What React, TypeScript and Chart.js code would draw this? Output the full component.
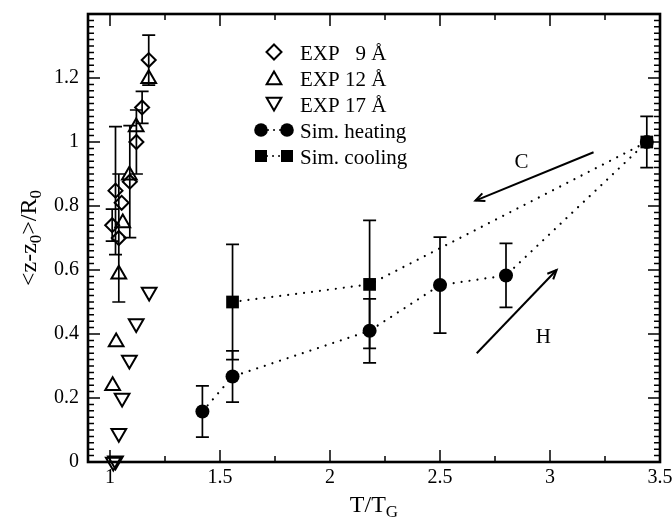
import React, { useEffect, useRef } from 'react';
import { Chart, registerables } from 'chart.js';

Chart.register(...registerables);

// ---------- data ----------
const exp9X = [1.176, 1.146, 1.12, 1.09, 1.025, 1.053, 1.01, 1.04];
const exp9Y = [1.256, 1.108, 1.0, 0.876, 0.848, 0.81, 0.74, 0.70];
const exp9Err = [0.078, 0.05, 0.1, 0.175, 0.2, 0, 0.05, 0.2];

const exp12X = [1.176, 1.119, 1.088, 1.058, 1.04, 1.028, 1.012];
const exp12Y = [1.198, 1.047, 0.896, 0.747, 0.587, 0.375, 0.238];

const exp17X = [1.178, 1.119, 1.088, 1.055, 1.04, 1.015, 1.025];
const exp17Y = [0.531, 0.433, 0.319, 0.2, 0.09, 0.0, 0.004];

const heatX = [1.42, 1.557, 2.18, 2.5, 2.8, 3.44];
const heatY = [0.158, 0.267, 0.41, 0.553, 0.583, 1.0];
const heatErr = [0.08, 0.08, 0.1, 0.15, 0.1, 0.08];

const coolX = [1.557, 2.18, 3.44];
const coolY = [0.5, 0.555, 1.0];
const coolErr = [0.18, 0.2, 0];

const xTicks = [1, 1.5, 2, 2.5, 3, 3.5];
const yTicks = [0, 0.2, 0.4, 0.6, 0.8, 1, 1.2];

// annotation arrows (data coordinates)
const arrowCFrom = [3.198, 0.968];
const arrowCTo = [2.661, 0.817];
const arrowHFrom = [2.667, 0.34];
const arrowHTo = [3.03, 0.6];
const labelC = [2.87, 0.935];
const labelH = [2.97, 0.39];

const legendLabels = ['EXP', 'EXP 12 Å', 'EXP 17 Å', 'Sim. heating', 'Sim. cooling'];

const SERIF = "'Liberation Serif', 'Times New Roman', serif";

function shape(ctx: CanvasRenderingContext2D, kind: string, x: number, y: number, r: number, fill: boolean) {
  ctx.beginPath();
  if (kind === 'diamond') {
    ctx.moveTo(x, y - r); ctx.lineTo(x + r, y); ctx.lineTo(x, y + r); ctx.lineTo(x - r, y); ctx.closePath();
  } else if (kind === 'tri') {
    ctx.moveTo(x, y - r); ctx.lineTo(x + r * 0.866, y + r / 2); ctx.lineTo(x - r * 0.866, y + r / 2); ctx.closePath();
  } else if (kind === 'tridown') {
    ctx.moveTo(x, y + r); ctx.lineTo(x + r * 0.866, y - r / 2); ctx.lineTo(x - r * 0.866, y - r / 2); ctx.closePath();
  } else if (kind === 'circle') {
    ctx.arc(x, y, r, 0, Math.PI * 2);
  } else if (kind === 'square') {
    ctx.rect(x - r, y - r, 2 * r, 2 * r);
  }
  if (fill) ctx.fill(); else ctx.stroke();
}

function arrow(ctx: CanvasRenderingContext2D, x1: number, y1: number, x2: number, y2: number) {
  ctx.beginPath();
  ctx.moveTo(x1, y1); ctx.lineTo(x2, y2); ctx.stroke();
  const a = Math.atan2(y2 - y1, x2 - x1);
  const L = 10, s = 0.42;
  ctx.beginPath();
  ctx.moveTo(x2 - L * Math.cos(a - s), y2 - L * Math.sin(a - s));
  ctx.lineTo(x2, y2);
  ctx.lineTo(x2 - L * Math.cos(a + s), y2 - L * Math.sin(a + s));
  ctx.stroke();
}

const decorPlugin = {
  id: 'decor',
  beforeDatasetsDraw(chart: any) {
    const ctx: CanvasRenderingContext2D = chart.ctx;
    const xs = chart.scales.x, ys = chart.scales.y;
    ctx.save();
    ctx.strokeStyle = '#000';
    ctx.lineWidth = 1.7;
    const bars = (X: number[], Y: number[], E: number[]) => {
      X.forEach((x, i) => {
        const e = E[i];
        if (!e) return;
        const px = xs.getPixelForValue(x);
        const p1 = ys.getPixelForValue(Y[i] - e);
        const p2 = ys.getPixelForValue(Y[i] + e);
        ctx.beginPath();
        ctx.moveTo(px, p1); ctx.lineTo(px, p2);
        ctx.moveTo(px - 6.5, p1); ctx.lineTo(px + 6.5, p1);
        ctx.moveTo(px - 6.5, p2); ctx.lineTo(px + 6.5, p2);
        ctx.stroke();
      });
    };
    bars(exp9X, exp9Y, exp9Err);
    bars(heatX, heatY, heatErr);
    bars(coolX, coolY, coolErr);

    // arrows
    ctx.lineWidth = 2;
    arrow(ctx, xs.getPixelForValue(arrowCFrom[0]), ys.getPixelForValue(arrowCFrom[1]),
      xs.getPixelForValue(arrowCTo[0]), ys.getPixelForValue(arrowCTo[1]));
    arrow(ctx, xs.getPixelForValue(arrowHFrom[0]), ys.getPixelForValue(arrowHFrom[1]),
      xs.getPixelForValue(arrowHTo[0]), ys.getPixelForValue(arrowHTo[1]));
    ctx.fillStyle = '#000';
    ctx.font = `21px ${SERIF}`;
    ctx.textAlign = 'center';
    ctx.textBaseline = 'middle';
    ctx.fillText('C', xs.getPixelForValue(labelC[0]), ys.getPixelForValue(labelC[1]));
    ctx.fillText('H', xs.getPixelForValue(labelH[0]), ys.getPixelForValue(labelH[1]));
    ctx.restore();
  },
  afterDraw(chart: any) {
    const ctx: CanvasRenderingContext2D = chart.ctx;
    const a = chart.chartArea;
    const xs = chart.scales.x, ys = chart.scales.y;
    ctx.save();
    ctx.strokeStyle = '#000';
    ctx.fillStyle = '#000';
    // ticks
    ctx.lineWidth = 1.5;
    ctx.beginPath();
    for (let i = 0; i <= 70; i++) {
      const v = i * 0.02;
      const p = ys.getPixelForValue(v);
      const len = i % 10 === 0 ? 12 : 6;
      ctx.moveTo(a.left, p); ctx.lineTo(a.left + len, p);
      ctx.moveTo(a.right, p); ctx.lineTo(a.right - len, p);
    }
    for (let i = 0; i <= 10; i++) {
      const v = 1 + i * 0.25;
      const p = xs.getPixelForValue(v);
      const len = i % 2 === 0 ? 12 : 6;
      ctx.moveTo(p, a.bottom); ctx.lineTo(p, a.bottom - len);
      ctx.moveTo(p, a.top); ctx.lineTo(p, a.top + len);
    }
    ctx.stroke();
    // frame
    ctx.lineWidth = 2.6;
    ctx.strokeRect(a.left, a.top, a.right - a.left, a.bottom - a.top);

    // legend
    const rows = [52, 78, 104, 130, 156];
    const sx = 274, tx = 300;
    ctx.lineWidth = 2;
    shape(ctx, 'diamond', sx, rows[0], 7.5, false);
    shape(ctx, 'tri', sx, rows[1] + 2, 8.5, false);
    shape(ctx, 'tridown', sx, rows[2] - 2, 8.5, false);
    shape(ctx, 'circle', 261, rows[3], 6.8, true);
    shape(ctx, 'circle', 287, rows[3], 6.8, true);
    shape(ctx, 'square', 261, rows[4], 6, true);
    shape(ctx, 'square', 287, rows[4], 6, true);
    ctx.save();
    ctx.lineWidth = 2;
    ctx.lineCap = 'round';
    ctx.setLineDash([0.01, 6]);
    ctx.beginPath();
    ctx.moveTo(268, rows[3]); ctx.lineTo(281, rows[3]);
    ctx.moveTo(267, rows[4]); ctx.lineTo(281, rows[4]);
    ctx.stroke();
    ctx.restore();
    ctx.font = `21px ${SERIF}`;
    ctx.textAlign = 'left';
    ctx.textBaseline = 'alphabetic';
    ctx.fillText(legendLabels[0], tx, rows[0] + 7.5);
    ctx.fillText('9 Å', tx + ctx.measureText('EXP 1').width, rows[0] + 7.5);
    for (let i = 1; i < 5; i++) ctx.fillText(legendLabels[i], tx, rows[i] + 7.5);

    // x title  T/T_G
    const mainF = `24px ${SERIF}`, subF = `17px ${SERIF}`;
    ctx.font = mainF;
    const w1 = ctx.measureText('T/T').width;
    ctx.font = subF;
    const w2 = ctx.measureText('G').width;
    const cx = (a.left + a.right) / 2;
    let x0 = cx - (w1 + w2) / 2;
    ctx.font = mainF;
    ctx.fillText('T/T', x0, 512);
    ctx.font = subF;
    ctx.fillText('G', x0 + w1, 517);

    // y title <z-z0>/R0
    const parts: [string, boolean][] = [['<z-z', false], ['0', true], ['>/R', false], ['0', true]];
    let total = 0;
    const widths = parts.map(([t, sub]) => { ctx.font = sub ? subF : mainF; const w = ctx.measureText(t).width; total += w; return w; });
    ctx.translate(36, (a.top + a.bottom) / 2);
    ctx.rotate(-Math.PI / 2);
    let px = -total / 2;
    parts.forEach(([t, sub], i) => {
      ctx.font = sub ? subF : mainF;
      ctx.fillText(t, px, sub ? 5 : 0);
      px += widths[i];
    });
    ctx.restore();
  },
};

export default function App() {
  const ref = useRef<HTMLCanvasElement>(null);
  useEffect(() => {
    const pts = (X: number[], Y: number[]) => X.map((x, i) => ({ x, y: Y[i] }));
    const hollow = {
      borderColor: '#000',
      backgroundColor: 'rgba(0,0,0,0)',
      pointBorderColor: '#000',
      pointBackgroundColor: 'rgba(0,0,0,0)',
      pointBorderWidth: 2,
      clip: false as any,
    };
    const chart = new Chart(ref.current as HTMLCanvasElement, {
      type: 'scatter',
      data: {
        datasets: [
          { label: 'Sim. heating', data: pts(heatX, heatY), showLine: true, borderColor: '#000', borderWidth: 2.2,
            borderDash: [0.01, 8], borderCapStyle: 'round', pointStyle: 'circle', pointRadius: 7,
            pointBackgroundColor: '#000', pointBorderColor: '#000', pointBorderWidth: 0, clip: false as any } as any,
          { label: 'Sim. cooling', data: pts(coolX, coolY), showLine: true, borderColor: '#000', borderWidth: 2.2,
            borderDash: [0.01, 8], borderCapStyle: 'round', pointStyle: 'rect', pointRadius: 9,
            pointBackgroundColor: '#000', pointBorderColor: '#000', pointBorderWidth: 0, clip: false as any } as any,
          { label: 'EXP 9', data: pts(exp9X, exp9Y), pointStyle: 'rectRot', pointRadius: 7, ...hollow } as any,
          { label: 'EXP 12', data: pts(exp12X, exp12Y), pointStyle: 'triangle', pointRadius: 8.5, ...hollow } as any,
          { label: 'EXP 17', data: pts(exp17X, exp17Y), pointStyle: 'triangle', pointRotation: 180, pointRadius: 8.5, ...hollow } as any,
        ],
      },
      options: {
        animation: false,
        responsive: false,
        events: [],
        layout: { padding: { top: 14, right: 12, left: 0, bottom: 0 } },
        plugins: { legend: { display: false }, tooltip: { enabled: false }, title: { display: false } },
        scales: {
          x: {
            type: 'linear', min: 0.9, max: 3.5,
            grid: { display: false, drawTicks: false },
            border: { display: false },
            afterBuildTicks: (s: any) => { s.ticks = xTicks.map((v) => ({ value: v })); },
            afterFit: (s: any) => { s.height = 63; s.paddingLeft = 0; s.paddingRight = 0; },
            ticks: { color: '#000', font: { family: SERIF, size: 20 }, padding: 4, maxRotation: 0, autoSkip: false,
              callback: (v: any) => String(v) },
          },
          y: {
            type: 'linear', min: 0, max: 1.4,
            grid: { display: false, drawTicks: false },
            border: { display: false },
            afterBuildTicks: (s: any) => { s.ticks = yTicks.map((v) => ({ value: v })); },
            afterFit: (s: any) => { s.width = 88; s.paddingTop = 0; s.paddingBottom = 0; },
            ticks: { color: '#000', font: { family: SERIF, size: 20 }, padding: 9, autoSkip: false,
              callback: (v: any) => String(v) },
          },
        },
      } as any,
      plugins: [decorPlugin as any],
    });
    return () => chart.destroy();
  }, []);
  return (
    <div style={{ position: 'absolute', left: 0, top: 0, width: 672, height: 525, background: '#fff' }}>
      <canvas ref={ref} width={672} height={525} style={{ display: 'block' }} />
    </div>
  );
}
